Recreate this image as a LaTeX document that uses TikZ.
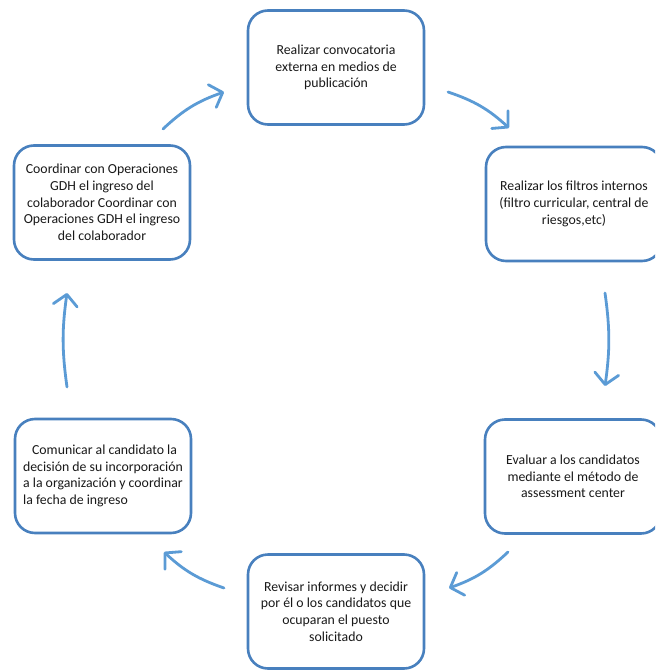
\documentclass[tikz,border=0pt]{standalone}
\usepackage{fontspec}
\setmainfont{Carlito}
\usetikzlibrary{arrows.meta}
\definecolor{boxblue}{RGB}{72,128,190}
\definecolor{arrblue}{RGB}{91,155,213}
\begin{document}
\begin{tikzpicture}[x=1pt,y=-1pt,
  stepbox/.style={draw=boxblue,line width=2.6pt,rounded corners=20pt,fill=white,
    minimum width=176pt,minimum height=114pt,inner sep=0pt,
    font=\fontsize{13.8}{16.7}\selectfont,align=center,text=black!90},
  cyc/.style={draw=arrblue,line width=2.8pt,line cap=round,
    -{Straight Barb[length=11pt,width=24pt,line width=2.8pt,round]}}]
\useasboundingbox (0,0) rectangle (655,671);
\begin{scope}
\clip (0,0) rectangle (655,671);
\node[stepbox] (a) at (336,67.5) {Realizar convocatoria\\externa en medios de\\publicación};
\node[stepbox] (b) at (574,204) {Realizar los filtros internos\\(filtro curricular, central de\\riesgos,etc)};
\node[stepbox] (c) at (573,476.5) {Evaluar a los candidatos\\mediante el método de\\assessment center};
\node[stepbox] (d) at (336,611.5) {Revisar informes y decidir\\por él o los candidatos que\\ocuparan el puesto\\solicitado};
\node[stepbox,align=left] (e) at (103,476) {\hspace*{9pt}Comunicar al candidato la\\decisión de su incorporación\\a la organización y coordinar\\la fecha de ingreso};
\node[stepbox] (f) at (102,202.5) {Coordinar con Operaciones\\GDH el ingreso del\\colaborador Coordinar con\\Operaciones GDH el ingreso\\del colaborador};
\end{scope}
\coordinate (a1) at (163,129); \coordinate (a2) at (224,92);
\coordinate (b1) at (448,92); \coordinate (b2) at (509,128);
\coordinate (c1) at (605,293); \coordinate (c2) at (605,386);
\coordinate (d1) at (508,552); \coordinate (d2) at (449,588);
\coordinate (e1) at (224,588); \coordinate (e2) at (164,552);
\coordinate (f1) at (67,387); \coordinate (f2) at (67,293);
\draw[cyc] (a1) to[bend left=12] (a2);
\draw[cyc] (b1) to[bend left=12] (b2);
\draw[cyc] (c1) to[bend left=8] (c2);
\draw[cyc] (d1) to[bend left=12] (d2);
\draw[cyc] (e1) to[bend left=12] (e2);
\draw[cyc] (f1) to[bend left=8] (f2);
\end{tikzpicture}
\end{document}
